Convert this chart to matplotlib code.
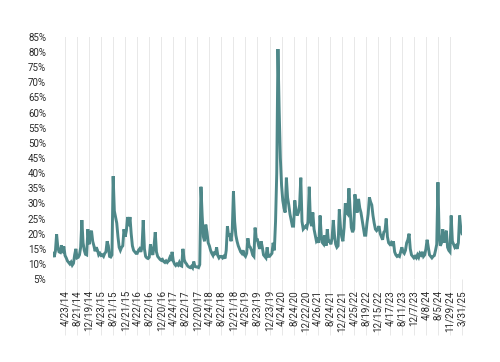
import numpy as np
import matplotlib.pyplot as plt

plt.rcParams['font.family'] = ['Roboto', 'DejaVu Sans']

# date labels, one every 10 samples
date_labels = ['4/23/14', '8/21/14', '12/19/14', '4/23/15', '8/21/15', '12/21/15',
               '4/22/16', '8/22/16', '12/20/16', '4/24/17', '8/22/17', '12/20/17',
               '4/24/18', '8/22/18', '12/21/18', '4/25/19', '8/23/19', '12/23/19',
               '4/24/20', '8/24/20', '12/22/20', '4/26/21', '8/24/21', '12/22/21',
               '4/25/22', '8/19/22', '12/15/22', '4/17/23', '8/11/23', '12/7/23',
               '4/8/24', '8/5/24', '11/29/24', '3/31/25']

# volatility in % (10 samples per label gap)
vol_jan_apr14 = [13.5, 12.3, 14.2, 19.8, 15.5, 14.0, 13.8, 16.2, 13.6, 15.8]
vol_apr14_apr15 = [12.8, 12.0, 11.0, 10.5, 10.0, 10.6, 9.6, 10.2, 13.0, 15.0,
                   12.0, 12.2, 13.0, 15.5, 24.5, 17.0, 14.5, 13.2, 13.0, 21.5,
                   16.5, 19.5, 21.0, 17.5, 16.0, 14.2, 15.5, 14.5, 13.0, 13.5]
vol_apr15_apr16 = [12.8, 13.0, 12.5, 13.5, 14.0, 17.5, 16.0, 12.5, 12.3, 13.0,
                   39.0, 27.5, 25.5, 23.5, 19.0, 15.5, 14.5, 15.5, 16.0, 21.5,
                   19.0, 21.0, 25.5, 22.5, 25.5, 20.0, 16.0, 14.5, 14.0, 13.5]
vol_apr16_apr17 = [13.5, 14.5, 15.0, 14.0, 15.5, 24.5, 15.0, 12.5, 12.0, 11.8,
                   12.2, 16.5, 14.0, 13.0, 16.0, 20.5, 14.0, 12.5, 12.0, 11.5,
                   11.2, 11.5, 10.8, 10.5, 11.0, 10.5, 11.0, 12.0, 11.0, 14.0]
vol_apr17_apr18 = [11.0, 10.0, 9.5, 10.0, 9.6, 10.5, 9.5, 9.3, 15.0, 11.5,
                   10.5, 10.0, 9.3, 9.0, 8.8, 9.2, 8.7, 10.8, 9.2, 9.0,
                   9.0, 8.8, 9.8, 35.5, 26.0, 19.0, 17.5, 23.0, 20.5, 17.0]
vol_apr18_apr19 = [16.0, 14.5, 13.5, 12.8, 14.0, 13.0, 15.5, 12.8, 12.0, 12.5,
                   12.5, 12.0, 12.5, 11.8, 14.5, 22.5, 19.0, 20.0, 17.5, 21.0,
                   34.0, 24.0, 19.5, 17.5, 16.0, 15.0, 14.0, 13.5, 14.5, 13.0]
vol_apr19_apr20 = [12.5, 13.5, 18.5, 16.0, 15.5, 14.5, 13.0, 12.5, 22.0, 18.0,
                   18.0, 16.0, 15.0, 17.5, 15.5, 13.0, 12.5, 12.0, 15.5, 12.5,
                   12.5, 13.0, 13.5, 17.0, 14.5, 24.0, 40.0, 81.0, 61.0, 45.0]
vol_apr20_apr21 = [36.0, 31.0, 28.5, 27.0, 38.5, 32.0, 29.5, 26.5, 24.5, 22.5,
                   22.5, 31.0, 27.5, 26.0, 27.0, 29.5, 38.5, 24.0, 21.5, 22.0,
                   22.5, 22.0, 24.0, 35.5, 24.0, 22.5, 27.0, 21.5, 19.5, 17.5]
vol_apr21_apr22 = [18.0, 17.0, 26.0, 19.5, 17.0, 16.5, 19.5, 16.0, 21.5, 17.5,
                   17.5, 16.5, 18.5, 24.5, 19.5, 16.5, 15.5, 16.0, 28.0, 22.0,
                   19.0, 17.5, 22.0, 30.0, 27.0, 26.5, 35.0, 28.0, 22.0, 20.5]
vol_apr22_apr23 = [21.5, 33.0, 28.5, 27.0, 31.5, 28.5, 27.0, 24.5, 22.0, 19.5,
                   19.5, 23.5, 26.5, 32.0, 30.5, 29.5, 26.0, 23.5, 21.5, 21.0,
                   21.5, 22.5, 20.0, 19.0, 18.0, 20.5, 21.0, 25.0, 19.0, 17.0]
vol_apr23_apr24 = [16.5, 17.0, 16.0, 17.5, 14.0, 13.0, 12.5, 12.8, 12.5, 14.0,
                   15.5, 14.0, 13.5, 14.5, 17.0, 18.0, 20.0, 15.0, 13.0, 12.5,
                   12.0, 12.5, 12.0, 13.0, 12.2, 13.5, 13.0, 14.0, 12.5, 13.0]
vol_apr24_mar25 = [15.0, 18.0, 15.5, 13.0, 12.5, 12.0, 12.5, 12.8, 14.5, 16.5,
                   37.0, 19.5, 16.0, 17.0, 21.5, 17.0, 19.5, 21.0, 15.5, 14.5,
                   14.0, 26.0, 17.5, 16.5, 15.5, 16.0, 15.0, 17.0, 26.0, 21.5]
vol_last = [20.0]

vol = np.array(vol_jan_apr14 + vol_apr14_apr15 + vol_apr15_apr16 + vol_apr16_apr17
               + vol_apr17_apr18 + vol_apr18_apr19 + vol_apr19_apr20 + vol_apr20_apr21
               + vol_apr21_apr22 + vol_apr22_apr23 + vol_apr23_apr24 + vol_apr24_mar25
               + vol_last)
x = np.arange(len(vol))
step = 10

fig = plt.figure(figsize=(5, 3.62), dpi=100)
ax = fig.add_axes([0.106, 0.229, 0.818, 0.669])
ax.plot(x, vol, color='#4e8889', lw=2.1, solid_joinstyle='miter')

ax.set_xlim(0, len(vol) - 1)
ax.set_ylim(5, 85)
yt = np.arange(5, 90, 5)
ax.set_yticks(yt)
ax.set_yticklabels([f'{v}%' for v in yt])
ax.set_xticks(np.arange(1, len(date_labels) + 1) * step)
ax.set_xticklabels(date_labels, rotation=90)

# long light ticks so the grid runs down through the labels
ax.tick_params(axis='x', length=40, width=0.7, color='#e8e8e8', pad=-32,
               labelsize=7, labelcolor='#2b2b2b')
ax.tick_params(axis='y', length=0, pad=5, labelsize=7, labelcolor='#2b2b2b')
ax.grid(axis='x', color='#e8e8e8', lw=0.7)
ax.set_axisbelow(True)
for s in ax.spines.values():
    s.set_visible(False)

fig.savefig('out.png', dpi=100)
